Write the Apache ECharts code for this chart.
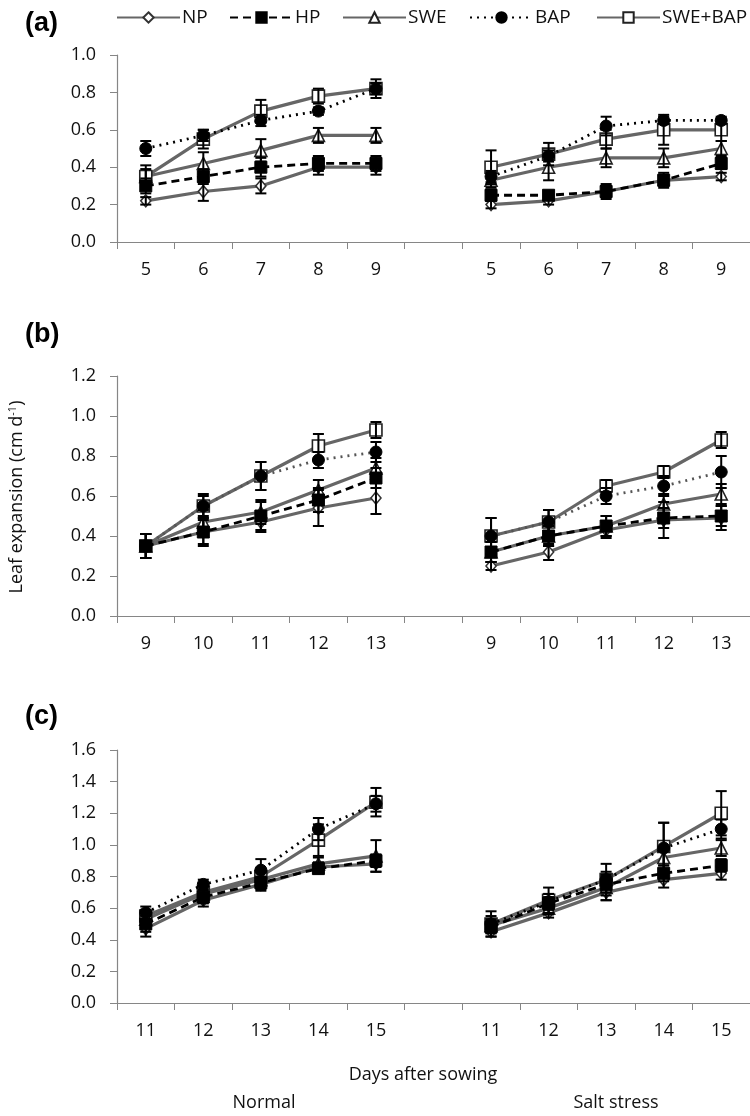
<!DOCTYPE html>
<html><head><meta charset="utf-8">
<script src="https://cdn.jsdelivr.net/npm/echarts@6/dist/echarts.min.js"></script>
<style>html,body{margin:0;padding:0;background:#fff}#c{width:750px;height:1116px}</style>
</head><body><div id="c"></div>
<script>
// ---------- DATA ----------
const seriesNames = ['NP','HP','SWE','BAP','SWE+BAP'];
const daysA = ['5','6','7','8','9','','5','6','7','8','9'];
const daysB = ['9','10','11','12','13','','9','10','11','12','13'];
const daysC = ['11','12','13','14','15','','11','12','13','14','15'];
const ticksA = [0,0.2,0.4,0.6,0.8,1.0];
const ticksB = [0,0.2,0.4,0.6,0.8,1.0,1.2];
const ticksC = [0,0.2,0.4,0.6,0.8,1.0,1.2,1.4,1.6];
const groupLabels = ['Normal','Salt stress'];

// panel (a)            Normal                         | gap |  Salt stress
const a_NP      = [0.22,0.27,0.30,0.40,0.40, null, 0.20,0.22,0.27,0.33,0.35];
const a_NP_err  = [0.02,0.05,0.04,0.04,0.04, null, 0.02,0.02,0.03,0.03,0.02];
const a_HP      = [0.30,0.35,0.40,0.42,0.42, null, 0.25,0.25,0.27,0.33,0.42];
const a_HP_err  = [0.04,0.04,0.05,0.04,0.04, null, 0.03,0.02,0.04,0.04,0.03];
const a_SWE     = [0.35,0.42,0.49,0.57,0.57, null, 0.33,0.40,0.45,0.45,0.50];
const a_SWE_err = [0.06,0.06,0.06,0.04,0.04, null, 0.04,0.07,0.05,0.05,0.04];
const a_BAP     = [0.50,0.57,0.65,0.70,0.82, null, 0.35,0.46,0.62,0.65,0.65];
const a_BAP_err = [0.04,0.03,0.03,0.02,0.03, null, 0.03,0.03,0.05,0.02,0.02];
const a_SB      = [0.35,0.55,0.70,0.78,0.82, null, 0.40,0.47,0.55,0.60,0.60];
const a_SB_err  = [0.04,0.05,0.06,0.04,0.05, null, 0.09,0.06,0.05,0.08,0.06];

// panel (b)
const b_NP      = [0.35,0.42,0.47,0.54,0.59, null, 0.25,0.32,0.43,0.48,0.49];
const b_NP_err  = [0.06,0.06,0.05,0.09,0.08, null, 0.02,0.04,0.04,0.09,0.06];
const b_HP      = [0.35,0.42,0.50,0.58,0.69, null, 0.32,0.40,0.45,0.49,0.50];
const b_HP_err  = [0.06,0.07,0.07,0.06,0.05, null, 0.05,0.05,0.05,0.05,0.05];
const b_SWE     = [0.35,0.47,0.52,0.63,0.74, null, 0.32,0.40,0.45,0.56,0.61];
const b_SWE_err = [0.06,0.06,0.06,0.05,0.05, null, 0.05,0.05,0.05,0.05,0.05];
const b_BAP     = [0.35,0.55,0.70,0.78,0.82, null, 0.40,0.47,0.60,0.65,0.72];
const b_BAP_err = [0.06,0.05,0.07,0.04,0.05, null, 0.09,0.06,0.04,0.05,0.08];
const b_SB      = [0.35,0.55,0.70,0.85,0.93, null, 0.40,0.47,0.65,0.72,0.88];
const b_SB_err  = [0.06,0.06,0.07,0.06,0.04, null, 0.09,0.06,0.03,0.03,0.04];

// panel (c)
const c_NP      = [0.47,0.65,0.75,0.86,0.88, null, 0.45,0.57,0.70,0.78,0.82];
const c_NP_err  = [0.05,0.04,0.04,0.03,0.05, null, 0.03,0.03,0.05,0.05,0.04];
const c_HP      = [0.50,0.67,0.76,0.85,0.90, null, 0.48,0.63,0.75,0.82,0.87];
const c_HP_err  = [0.05,0.04,0.04,0.03,0.04, null, 0.04,0.04,0.05,0.05,0.04];
const c_SWE     = [0.53,0.69,0.78,0.88,0.93, null, 0.49,0.60,0.73,0.92,0.98];
const c_SWE_err = [0.05,0.05,0.05,0.04,0.10, null, 0.04,0.04,0.08,0.05,0.05];
const c_BAP     = [0.57,0.75,0.84,1.10,1.26, null, 0.50,0.64,0.78,0.98,1.10];
const c_BAP_err = [0.04,0.03,0.07,0.07,0.05, null, 0.05,0.05,0.05,0.16,0.06];
const c_SB      = [0.55,0.70,0.80,1.03,1.27, null, 0.50,0.65,0.78,0.99,1.20];
const c_SB_err  = [0.04,0.04,0.05,0.10,0.09, null, 0.08,0.08,0.10,0.15,0.14];

// ---------- BUILD ----------
const FONT = '"Open Sans", Lato, sans-serif';
const panels = [
  {cats: daysA, ticks: ticksA, top: 55, height: 187, vals: [a_NP,a_HP,a_SWE,a_BAP,a_SB], errs: [a_NP_err,a_HP_err,a_SWE_err,a_BAP_err,a_SB_err], bapColor:'#000'},
  {cats: daysB, ticks: ticksB, top: 376, height: 240, vals: [b_NP,b_HP,b_SWE,b_BAP,b_SB], errs: [b_NP_err,b_HP_err,b_SWE_err,b_BAP_err,b_SB_err], bapColor:'#555'},
  {cats: daysC, ticks: ticksC, top: 750, height: 253, vals: [c_NP,c_HP,c_SWE,c_BAP,c_SB], errs: [c_NP_err,c_HP_err,c_SWE_err,c_BAP_err,c_SB_err], bapColor:'#000'}
];
const GREY = '#666666';
function styleFor(i, p) {
  switch (i) {
    case 0: return {line:{color:GREY,width:3.2,type:'solid'}, symbol:'diamond', size:[10,12], item:{color:'#fff',borderColor:'#333',borderWidth:1.6}};
    case 1: return {line:{color:'#000',width:2.8,type:[8,5]}, symbol:'rect', size:12, item:{color:'#000',borderColor:'#000',borderWidth:1}};
    case 2: return {line:{color:GREY,width:3.2,type:'solid'}, symbol:'triangle', size:12, item:{color:'#fff',borderColor:'#222',borderWidth:1.6}};
    case 3: return {line:{color:p.bapColor,width:2.8,type:[2,5]}, symbol:'circle', size:12, item:{color:'#000',borderColor:'#000',borderWidth:1}};
    case 4: return {line:{color:GREY,width:3.2,type:'solid'}, symbol:'rect', size:12, item:{color:'#fff',borderColor:'#222',borderWidth:1.6}};
  }
}
function errRender(params, api) {
  const x = api.value(0), lo = api.value(1), hi = api.value(2);
  const t = api.coord([x, hi]), b = api.coord([x, lo]);
  const w = 5.5, st = {stroke:'#000', lineWidth:2};
  return {type:'group', children:[
    {type:'line', shape:{x1:t[0],y1:t[1],x2:b[0],y2:b[1]}, style:st},
    {type:'line', shape:{x1:t[0]-w,y1:t[1],x2:t[0]+w,y2:t[1]}, style:st},
    {type:'line', shape:{x1:b[0]-w,y1:b[1],x2:b[0]+w,y2:b[1]}, style:st}
  ]};
}
const grid = [], xAxis = [], yAxis = [], series = [];
const CATW = 58.75;
panels.forEach((p, k) => {
  grid.push({left:117, top:p.top, width:CATW*11, height:p.height, containLabel:false});
  xAxis.push({type:'category', gridIndex:k, data:p.cats, boundaryGap:true,
    axisLine:{lineStyle:{color:'#868686',width:1.2}},
    axisTick:{show:true, interval:0, length:7, lineStyle:{color:'#868686'}},
    axisLabel:{interval:0, margin:19, fontSize:18, color:'#111', fontFamily:FONT},
    splitLine:{show:false}});
  const mx = p.ticks[p.ticks.length-1];
  yAxis.push({type:'value', gridIndex:k, min:0, max:mx, interval:0.2,
    axisLine:{show:true, lineStyle:{color:'#868686',width:1.2}},
    axisTick:{show:true, length:7, lineStyle:{color:'#868686'}},
    axisLabel:{margin:21, fontSize:18, color:'#111', fontFamily:FONT, formatter:v=>v.toFixed(1)},
    splitLine:{show:false}});
  for (let i = 0; i < 5; i++) {
    const ed = [];
    p.vals[i].forEach((v, j) => { if (v != null) ed.push([j, +(v - p.errs[i][j]).toFixed(3), +(v + p.errs[i][j]).toFixed(3)]); });
    series.push({type:'custom', name:'err'+k+i, xAxisIndex:k, yAxisIndex:k, renderItem:errRender,
      data:ed, encode:{x:0,y:[1,2]}, z:3, silent:true});
  }
  for (let i = 0; i < 5; i++) {
    const s = styleFor(i, p);
    series.push({type:'line', name:seriesNames[i], xAxisIndex:k, yAxisIndex:k, data:p.vals[i],
      connectNulls:false, symbol:s.symbol, symbolSize:s.size, showAllSymbol:true,
      lineStyle:s.line, itemStyle:s.item, z:2 + (i===1||i===3 ? 0.5 : 0), animation:false});
  }
});
const legendLeft = [111, 224, 337, 464, 591];
const legend = seriesNames.map((n, i) => ({data:[n], left:legendLeft[i], top:3, itemWidth:63, itemHeight:13,
  itemGap:4, textStyle:{fontSize:19, color:'#111', fontFamily:FONT, padding:[0,0,0,-3]}, selectedMode:false}));
const titleStyle = {fontSize:27, fontWeight:'bold', color:'#000', fontFamily:'"Liberation Sans", Arial, sans-serif'};
const option = {
  backgroundColor:'#fff', animation:false,
  title:[
    {text:'(a)', left:20, top:5, textStyle:titleStyle},
    {text:'(b)', left:20, top:316, textStyle:titleStyle},
    {text:'(c)', left:20, top:698, textStyle:titleStyle}
  ],
  legend, grid, xAxis, yAxis, series,
  graphic:[
    {type:'text', x:17, y:497, rotation:Math.PI/2, style:{text:'Leaf expansion (cm d{sup|-1})', align:'center', verticalAlign:'middle',
      fontSize:18, fill:'#111', fontFamily:FONT, rich:{sup:{fontSize:11, verticalAlign:'top', padding:[0,0,9,0], fill:'#111', fontFamily:FONT}}}},
    {type:'text', x:423, y:1075, style:{text:'Days after sowing', align:'center', verticalAlign:'middle', fontSize:18, fill:'#111', fontFamily:FONT}},
    {type:'text', x:264, y:1103, style:{text:groupLabels[0], align:'center', verticalAlign:'middle', fontSize:18, fill:'#111', fontFamily:FONT}},
    {type:'text', x:616, y:1103, style:{text:groupLabels[1], align:'center', verticalAlign:'middle', fontSize:18, fill:'#111', fontFamily:FONT}}
  ]
};
const chart = echarts.init(document.getElementById('c'), null, {renderer:'canvas'});
chart.setOption(option);
</script></body></html>
